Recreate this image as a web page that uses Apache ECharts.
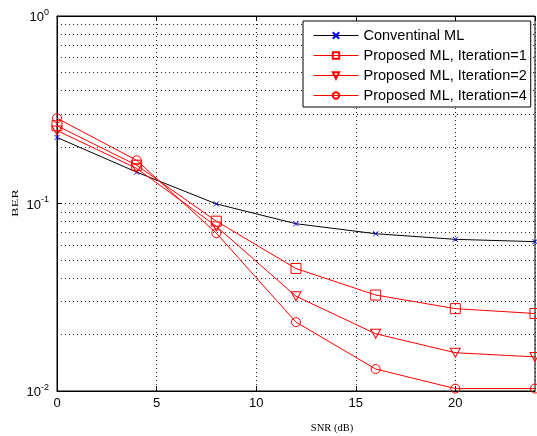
<!DOCTYPE html>
<html>
<head>
<meta charset="utf-8">
<script src="https://cdn.jsdelivr.net/npm/echarts/dist/echarts.min.js"></script>
<style>
html,body{margin:0;padding:0;background:#fff;}
#chart{width:537px;height:436px;}
</style>
</head>
<body>
<div id="chart"></div>
<script>
// ---- data ----
var snr = [0, 4, 8, 12, 16, 20, 24];
var conventionalML = [0.225, 0.147, 0.0995, 0.078, 0.069, 0.0644, 0.0626];
var proposedIter1 = [0.26, 0.16, 0.0805, 0.045, 0.0325, 0.0275, 0.0259];
var proposedIter2 = [0.245, 0.154, 0.0755, 0.032, 0.0202, 0.016, 0.0152];
var proposedIter4 = [0.285, 0.17, 0.0695, 0.0233, 0.0131, 0.0103, 0.0103];
var seriesNames = ['Conventinal ML', 'Proposed ML, Iteration=1', 'Proposed ML, Iteration=2', 'Proposed ML, Iteration=4'];
var xTicks = [0, 5, 10, 15, 20];
var yDecades = [0.01, 0.1, 1];

function pairs(ys) { return snr.map(function (x, i) { return [x, ys[i]]; }); }

// minor log grid lines (2..9 in each decade)
var minorGrid = [];
for (var d = 0; d < yDecades.length - 1; d++) {
  for (var k = 2; k <= 9; k++) minorGrid.push({ yAxis: k * yDecades[d] });
}

var dotted = { type: [1, 3], color: '#222', width: 1 };
var hollow = 'rgba(255,255,255,0)';

var chart = echarts.init(document.getElementById('chart'), null, { renderer: 'canvas' });
chart.setOption({
  animation: false,
  backgroundColor: '#fff',
  grid: { left: 57, top: 16, right: 2, bottom: 45, show: true, borderColor: '#000', borderWidth: 1, backgroundColor: '#fff' },
  legend: {
    orient: 'vertical', left: 303, top: 21,
    backgroundColor: '#fff', borderColor: '#000', borderWidth: 1,
    padding: [7, 4, 4, 10], itemWidth: 45, itemHeight: 8, itemGap: 5,
    lineStyle: { width: 1 },
    textStyle: { fontFamily: 'Liberation Sans, Arial', fontSize: 14.5, color: '#000', padding: [0, 0, 0, 0] },
    data: seriesNames
  },
  xAxis: [{
    type: 'value', min: 0, max: 24, interval: 5,
    axisLine: { show: true, lineStyle: { color: '#000' } },
    axisTick: { show: true, inside: true, length: 5, lineStyle: { color: '#000' } },
    axisLabel: { showMaxLabel: false, margin: 6, fontFamily: 'Liberation Sans, Arial', fontSize: 13, color: '#000',
      formatter: function (v) { return xTicks.indexOf(v) >= 0 ? String(v) : ''; } },
    splitLine: { show: true, lineStyle: dotted }
  }, {
    type: 'value', min: 0, max: 24, interval: 5, position: 'top',
    axisLine: { show: true, lineStyle: { color: '#000' } },
    axisTick: { show: true, inside: true, length: 5, lineStyle: { color: '#000' } },
    axisLabel: { show: false }, splitLine: { show: false }
  }],
  yAxis: {
    type: 'log', logBase: 10, min: 0.01, max: 1,
    axisLine: { show: true, lineStyle: { color: '#000' } },
    axisTick: { show: true, inside: true, length: 5, lineStyle: { color: '#000' } },
    axisLabel: {
      margin: 8, color: '#000',
      formatter: function (v) { var e = Math.round(Math.log10(v)); return '{b|10}{e|' + e + '}'; },
      rich: {
        b: { fontFamily: 'Liberation Sans, Arial', fontSize: 13, color: '#000', verticalAlign: 'bottom', lineHeight: 16 },
        e: { fontFamily: 'Liberation Sans, Arial', fontSize: 9, color: '#000', verticalAlign: 'top', lineHeight: 16, padding: [0, 0, 10, 0] }
      }
    },
    splitLine: { show: true, lineStyle: dotted }
  },
  graphic: [
    { type: 'text', x: 332, y: 428, style: { text: 'SNR (dB)', fontFamily: 'Liberation Serif, Times New Roman', fontSize: 10.5, fill: '#000', textAlign: 'center', textVerticalAlign: 'middle' } },
    { type: 'text', x: 11, y: 217, rotation: Math.PI / 2, scaleX: 1.3, scaleY: 0.8, style: { text: 'BER', fontFamily: 'Liberation Serif, Times New Roman', fontSize: 11, fill: '#000', textVerticalAlign: 'top' } }
  ],
  series: [
    {
      name: seriesNames[0], type: 'line', data: pairs(conventionalML), z: 3,
      symbol: 'path://M0,0L10,10M10,0L0,10', symbolSize: 5,
      lineStyle: { color: '#000', width: 1 },
      itemStyle: { color: hollow, borderColor: '#0000ff', borderWidth: 1 },
      markLine: { silent: true, symbol: ['none', 'none'], label: { show: false }, lineStyle: dotted, data: minorGrid, z: 1, animation: false }
    },
    {
      name: seriesNames[1], type: 'line', data: pairs(proposedIter1), z: 4,
      symbol: 'rect', symbolSize: 10,
      lineStyle: { color: '#ff0000', width: 1 },
      itemStyle: { color: hollow, borderColor: '#ff0000', borderWidth: 1 }
    },
    {
      name: seriesNames[2], type: 'line', data: pairs(proposedIter2), z: 4,
      symbol: 'path://M0,0L10,0L5,9Z', symbolSize: [10, 9],
      lineStyle: { color: '#ff0000', width: 1 },
      itemStyle: { color: hollow, borderColor: '#ff0000', borderWidth: 1 }
    },
    {
      name: seriesNames[3], type: 'line', data: pairs(proposedIter4), z: 4,
      symbol: 'circle', symbolSize: 9,
      lineStyle: { color: '#ff0000', width: 1 },
      itemStyle: { color: hollow, borderColor: '#ff0000', borderWidth: 1 }
    }
  ]
});
</script>
</body>
</html>
